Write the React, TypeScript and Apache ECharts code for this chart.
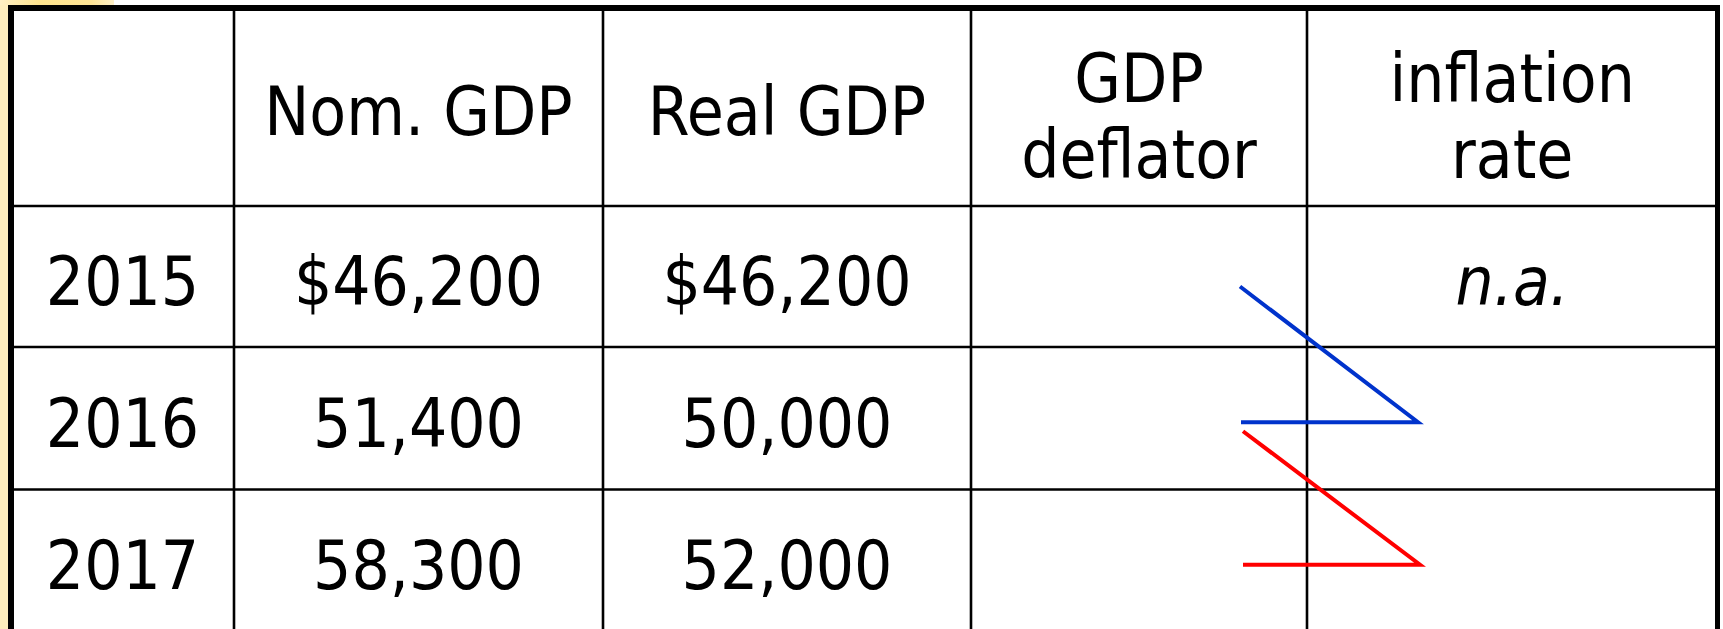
import React, { useEffect, useRef } from "react";
import * as echarts from "echarts";

// ---- data ----
const headers = ["", "Nom. GDP", "Real GDP", "GDP\ndeflator", "inflation\nrate"];
const years = ["2015", "2016", "2017"];
const nominalGDP = [46200, 51400, 58300];
const realGDP = [46200, 50000, 52000];
const gdpDeflator = ["", "", ""];
const inflationRate = ["n.a.", "", ""];

// ---- layout ----
const W = 1723;
const H = 629;
const colEdges = [11, 234, 603, 971, 1307, 1717.5];
const rowEdges = [8, 206, 347, 489.5, 632];
const FONT = "'DejaVu Sans Condensed', 'DejaVu Sans', sans-serif";
const FS = 67;
const BASE_OFF = 23;

const fmt = (v: number, i: number) => (i === 0 ? "$" : "") + v.toLocaleString("en-US");

function textEl(text: string, x: number, y: number, italic = false) {
  return {
    type: "text",
    x,
    y,
    silent: true,
    style: {
      text,
      fill: "#000",
      fontSize: FS,
      fontFamily: FONT,
      fontStyle: italic ? "italic" : "normal",
      lineHeight: 76,
      align: "center",
      verticalAlign: "middle",
      textAlign: "center",
      textVerticalAlign: "middle",
    },
  };
}

export default function App() {
  const ref = useRef<HTMLDivElement>(null);
  useEffect(() => {
    if (!ref.current) return;
    const chart = echarts.init(ref.current, undefined, { renderer: "svg", width: W, height: H });
    const els: any[] = [];

    // yellow slide background strips
    els.push({ type: "rect", shape: { x: 0, y: 0, width: 8, height: H }, style: { fill: "#FEEDBC" }, silent: true });
    els.push({
      type: "rect",
      shape: { x: 0, y: 0, width: 114, height: 5 },
      silent: true,
      style: {
        fill: new echarts.graphic.LinearGradient(0, 0, 1, 0, [
          { offset: 0, color: "#FEEFC4" },
          { offset: 0.35, color: "#FFE48E" },
          { offset: 0.8, color: "#FFE596" },
          { offset: 1, color: "#FEF0C8" },
        ]),
      },
    });

    const cx = (c: number) => (colEdges[c] + colEdges[c + 1]) / 2;
    const cy = (r: number) => (rowEdges[r] + rowEdges[r + 1]) / 2;

    // inner grid lines
    for (let c = 1; c < colEdges.length - 1; c++) {
      els.push({ type: "line", silent: true, shape: { x1: colEdges[c], y1: rowEdges[0], x2: colEdges[c], y2: H }, style: { stroke: "#000", lineWidth: 2.6 } });
    }
    for (let r = 1; r < rowEdges.length - 1; r++) {
      els.push({ type: "line", silent: true, shape: { x1: colEdges[0], y1: rowEdges[r], x2: colEdges[colEdges.length - 1], y2: rowEdges[r] }, style: { stroke: "#000", lineWidth: 2.6 } });
    }
    // outer border
    els.push({ type: "line", silent: true, shape: { x1: 11, y1: 5, x2: 11, y2: H }, style: { stroke: "#000", lineWidth: 6 } });
    els.push({ type: "line", silent: true, shape: { x1: 8, y1: 8, x2: 1720, y2: 8 }, style: { stroke: "#000", lineWidth: 6 } });
    els.push({ type: "line", silent: true, shape: { x1: 1717.5, y1: 5, x2: 1717.5, y2: H }, style: { stroke: "#000", lineWidth: 5 } });

    // header
    headers.forEach((h, c) => {
      if (!h) return;
      const multi = h.includes("\n");
      els.push(textEl(h, cx(c), multi ? 117 : 112));
    });

    // body rows
    years.forEach((y, i) => {
      const r = i + 1;
      const ty = cy(r) + 28.5 - BASE_OFF;
      els.push(textEl(y, cx(0), ty));
      els.push(textEl(fmt(nominalGDP[i], i), cx(1), ty));
      els.push(textEl(fmt(realGDP[i], i), cx(2), ty));
      if (gdpDeflator[i]) els.push(textEl(gdpDeflator[i], cx(3), ty));
      if (inflationRate[i]) els.push(textEl(inflationRate[i], cx(4), ty, true));
    });

    // annotation arrows (Z shapes)
    const xc = colEdges[4];
    els.push({
      type: "polyline",
      silent: true,
      shape: { points: [[xc - 67, cy(1) + 10], [xc + 111, cy(2) + 4], [xc - 66, cy(2) + 4]] },
      style: { stroke: "#0033CC", lineWidth: 4, fill: null },
    });
    els.push({
      type: "polyline",
      silent: true,
      shape: { points: [[xc - 64, cy(2) + 13], [xc + 113, cy(3) + 4], [xc - 64, cy(3) + 4]] },
      style: { stroke: "#FF0000", lineWidth: 4, fill: null },
    });

    chart.setOption({
      animation: false,
      backgroundColor: "#ffffff",
      graphic: { elements: els },
    });
    return () => chart.dispose();
  }, []);

  return (
    <div
      ref={ref}
      style={{ position: "fixed", left: 0, top: 0, width: W, height: H, background: "#fff" }}
    />
  );
}
